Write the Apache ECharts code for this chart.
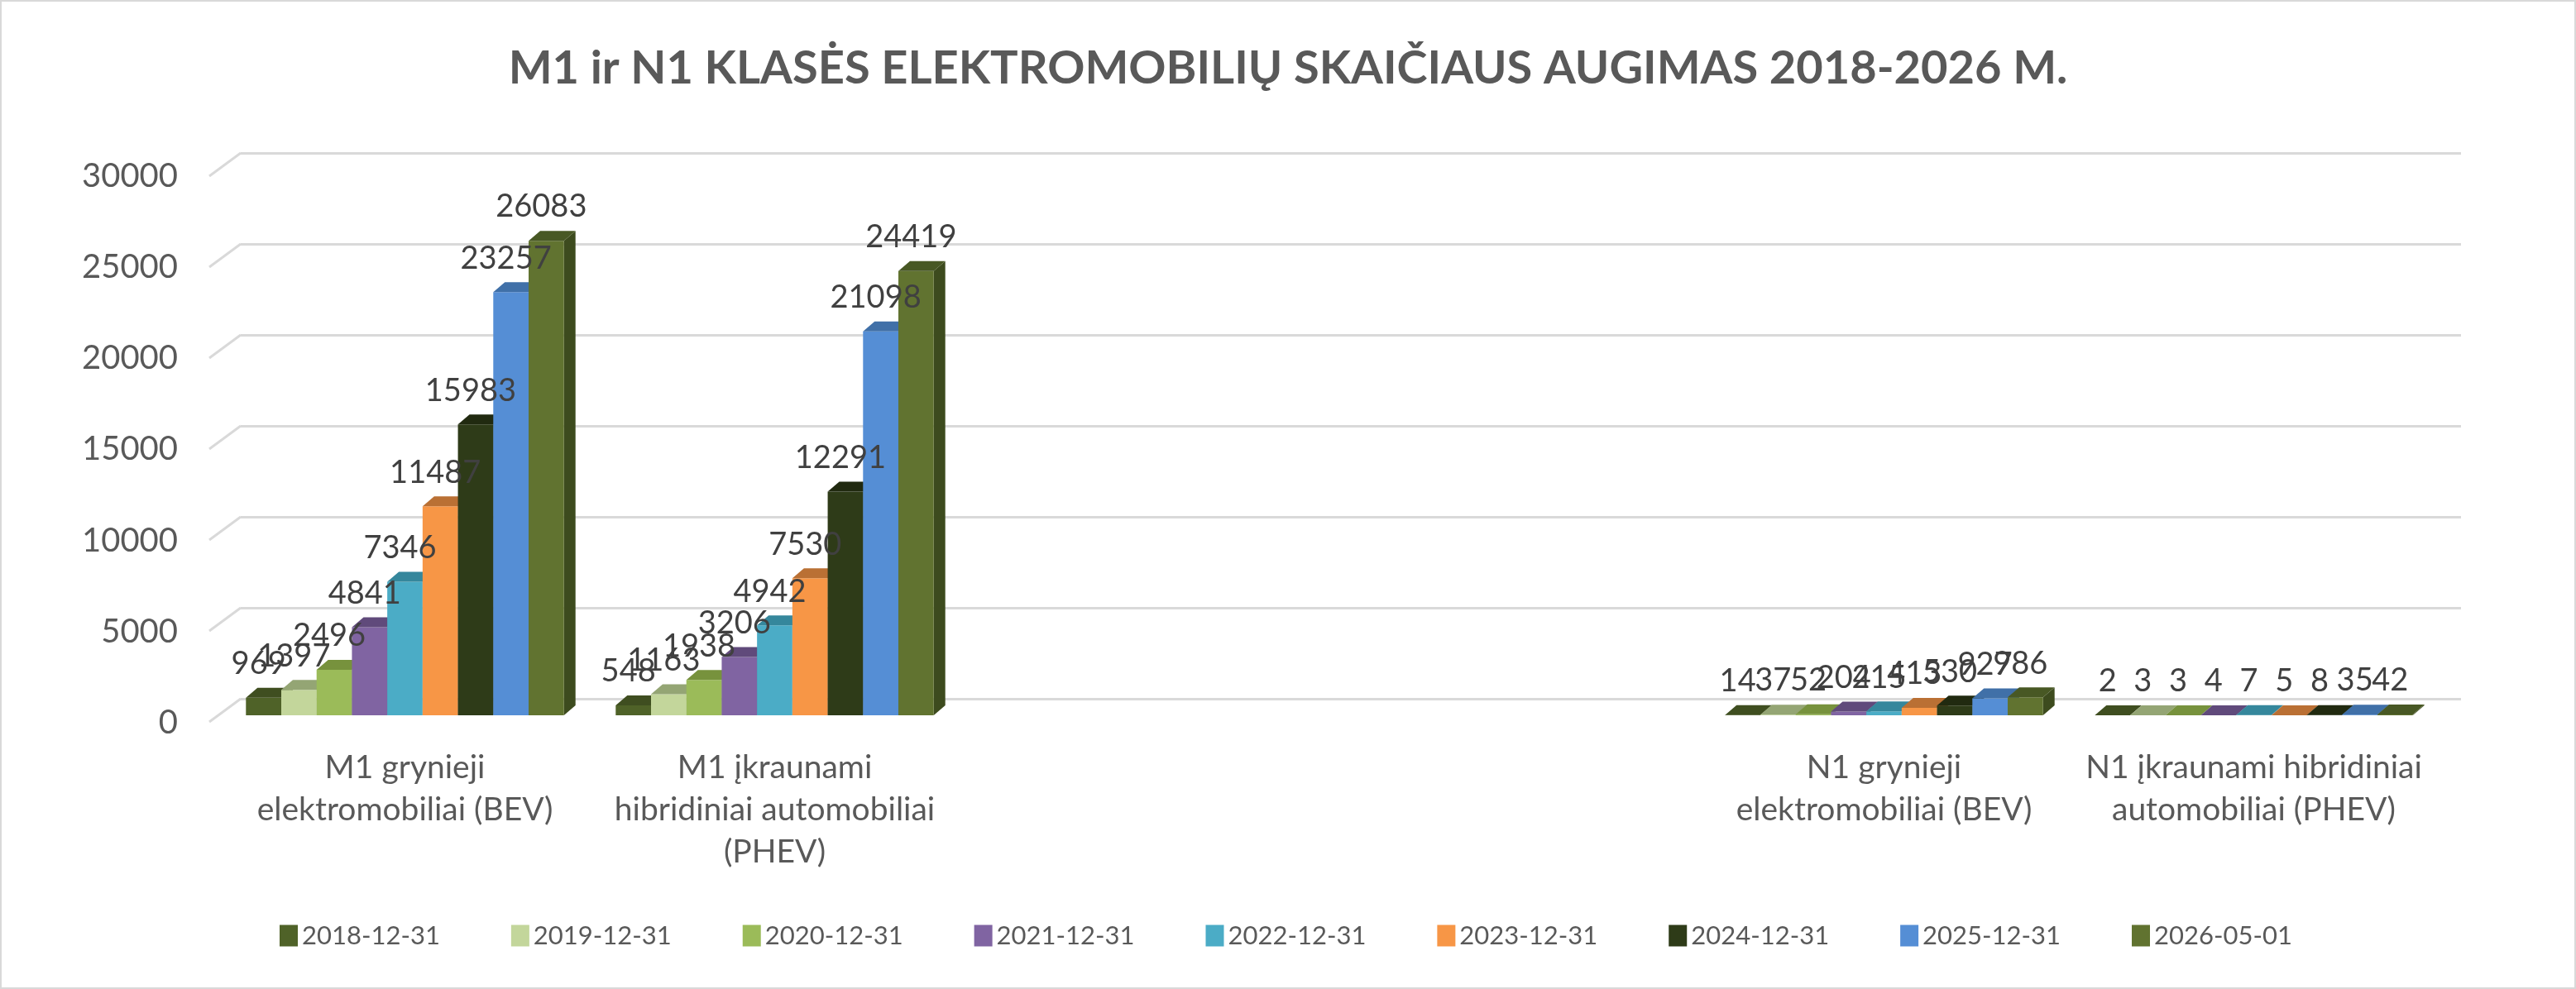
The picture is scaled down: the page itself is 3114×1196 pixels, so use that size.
<!DOCTYPE html>
<html>
<head>
<meta charset="utf-8">
<title>M1 ir N1 klasės elektromobilių skaičiaus augimas</title>
<script src="https://cdn.jsdelivr.net/npm/echarts@6/dist/echarts.min.js"></script>
<style>
  html, body { margin: 0; padding: 0; background: #fff; }
  #main { width: 3114px; height: 1196px; }
</style>
</head>
<body>
<div id="main"></div>
<script>
var dates = ['2018-12-31', '2019-12-31', '2020-12-31', '2021-12-31', '2022-12-31',
             '2023-12-31', '2024-12-31', '2025-12-31', '2026-05-01'];

// two blank slots in the middle, like the original sheet
var categories = [
  'M1 grynieji\nelektromobiliai (BEV)',
  'M1 įkraunami\nhibridiniai automobiliai\n(PHEV)',
  ' ',
  '  ',
  'N1 grynieji\nelektromobiliai (BEV)',
  'N1 įkraunami hibridiniai\nautomobiliai (PHEV)'
];

var m1Bev  = [969, 1397, 2496, 4841, 7346, 11487, 15983, 23257, 26083];
var m1Phev = [548, 1163, 1938, 3206, 4942, 7530, 12291, 21098, 24419];
var n1Bev  = [14, 37, 52, 204, 215, 413, 530, 927, 986];
var n1Phev = [2, 3, 3, 4, 7, 5, 8, 35, 42];
var groupSlots = [0, 1, 4, 5];

var yTicks = [0, 5000, 10000, 15000, 20000, 25000, 30000];

var frontColors = ['#4f6228', '#c3d69b', '#9bbb59', '#8064a2', '#4bacc6', '#f79646', '#2e3b18', '#558ed5', '#617330'];
var topColors   = ['#3f4e20', '#94a574', '#77923d', '#604a7b', '#35879c', '#ba7034', '#212a10', '#4070a8', '#485824'];
var sideColors  = ['#38461c', '#8a9a6a', '#6f8838', '#5a4573', '#317e92', '#ae6930', '#1c240e', '#3b66a0', '#3d4b1e'];

var FONT = 'Lato, "Open Sans", sans-serif';
var DX = 14, DY = 12;      // depth of the fake 3d boxes
var GROUP_SHARE = 0.86;    // part of a category taken by the 9 bars

var groups = [m1Bev, m1Phev, n1Bev, n1Phev];

function barRenderer(i) {
  return function (params, api) {
    var cat = api.value(0), val = api.value(1);
    var base = api.coord([cat, 0]);
    var top = api.coord([cat, val]);
    var band = api.size([1, 0])[0];
    var w = band * GROUP_SHARE / dates.length;
    var x = base[0] - band * GROUP_SHARE / 2 + i * w;
    var yb = base[1], yt = top[1];
    return {
      type: 'group',
      children: [
        { type: 'polygon', shape: { points: [[x + w, yt], [x + w + DX, yt - DY], [x + w + DX, yb - DY], [x + w, yb]] },
          style: { fill: sideColors[i] } },
        { type: 'rect', shape: { x: x, y: yt, width: w, height: yb - yt }, style: { fill: frontColors[i] } },
        { type: 'polygon', shape: { points: [[x, yt], [x + DX, yt - DY], [x + w + DX, yt - DY], [x + w, yt]] },
          style: { fill: topColors[i] } },
        { type: 'text', z2: 100, x: x + w / 2 - 6, y: yt - 22,
          style: { text: String(val), align: 'center', verticalAlign: 'bottom',
                   fill: '#404040', fontSize: 38, fontFamily: FONT } }
      ]
    };
  };
}

var series = dates.map(function (d, i) {
  return {
    name: d,
    type: 'custom',
    xAxisIndex: 0,
    yAxisIndex: 0,
    itemStyle: { color: frontColors[i] },
    renderItem: barRenderer(i),
    data: groups.map(function (g, k) { return [groupSlots[k], g[i]]; })
  };
});

// short slanted pieces joining the axis labels to the back wall lines
series.push({
  type: 'custom',
  xAxisIndex: 2,
  yAxisIndex: 2,
  silent: true,
  renderItem: function (params, api) {
    var p = api.coord([0, api.value(1)]);
    return { type: 'line', shape: { x1: p[0] - 38, y1: p[1] + 28, x2: p[0], y2: p[1] },
             style: { stroke: '#d9d9d9', lineWidth: 3 } };
  },
  data: yTicks.map(function (v) { return [0, v]; })
});

var myChart = echarts.init(document.getElementById('main'));
myChart.setOption({
  animation: false,
  title: {
    text: 'M1 ir N1 KLASĖS ELEKTROMOBILIŲ SKAIČIAUS AUGIMAS 2018-2026 M.',
    left: 'center',
    top: 50,
    textStyle: { fontSize: 56, fontWeight: 'bold', color: '#595959', fontFamily: FONT }
  },
  legend: {
    data: dates,
    left: 333,
    top: 1111,
    icon: 'rect',
    itemWidth: 22,
    itemHeight: 26,
    itemGap: 86,
    textStyle: { fontSize: 31, color: '#595959', fontFamily: FONT }
  },
  grid: [
    { left: 266, right: 166, top: 205, bottom: 331 },   // bars
    { left: 253, right: 176, top: 213, bottom: 322 },   // front edge, axis labels
    { left: 291, right: 139, top: 185, bottom: 351 }    // back wall lines
  ],
  xAxis: [
    {
      type: 'category', gridIndex: 0, data: categories,
      axisLine: { show: false }, axisTick: { show: false },
      axisLabel: { interval: 0, margin: 38, fontSize: 39, lineHeight: 51, color: '#595959', fontFamily: FONT }
    },
    { type: 'value', gridIndex: 1, show: false },
    { type: 'value', gridIndex: 2, min: 0, max: 1, show: false }
  ],
  yAxis: [
    { type: 'value', gridIndex: 0, min: 0, max: 30000, show: false },
    {
      type: 'value', gridIndex: 1, min: 0, max: 30000, interval: 5000,
      axisLine: { show: false }, axisTick: { show: false }, splitLine: { show: false },
      axisLabel: { margin: 38, fontSize: 40, color: '#595959', fontFamily: FONT,
                   formatter: function (v) { return String(v); } }
    },
    {
      type: 'value', gridIndex: 2, min: 0, max: 30000, interval: 5000,
      axisLine: { show: false }, axisTick: { show: false }, axisLabel: { show: false },
      splitLine: { lineStyle: { color: '#d9d9d9', width: 3 } }
    }
  ],
  graphic: [{
    type: 'rect', silent: true,
    shape: { x: 1, y: 1, width: 3112, height: 1194 },
    style: { fill: 'none', stroke: '#d9d9d9', lineWidth: 2 }
  }],
  series: series
});
</script>
</body>
</html>
